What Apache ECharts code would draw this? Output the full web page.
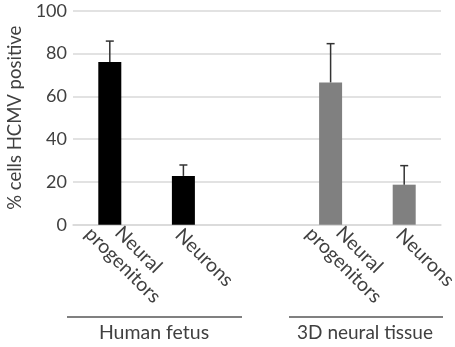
<!DOCTYPE html>
<html><head><meta charset="utf-8">
<script src="https://cdn.jsdelivr.net/npm/echarts@6/dist/echarts.min.js"></script>
<style>html,body{margin:0;padding:0;background:#fff}#c{width:455px;height:347px}</style>
</head><body><div id="c"></div>
<script>
const categories = ['Neural\nprogenitors', 'Neurons', '', 'Neural\nprogenitors', 'Neurons'];
const groupNames = ['Human fetus', '3D neural tissue'];
const fetusValues = [76, 22.8];
const fetusErrors = [9.8, 5.1];
const tissueValues = [66.5, 18.7];
const tissueErrors = [18.1, 8.9];
const yTicks = [0, 20, 40, 60, 80, 100];

const FONT = 'Lato';
const TXT = '#404040';
const values = [fetusValues[0], fetusValues[1], null, tissueValues[0], tissueValues[1]];
const errors = [fetusErrors[0], fetusErrors[1], null, tissueErrors[0], tissueErrors[1]];
const colors = ['#000000', '#000000', '#000000', '#808080', '#808080'];

const barData = values.map((v, i) => v == null ? null : { value: v, itemStyle: { color: colors[i] } });
const errData = values.map((v, i) => v == null ? null : [i, v, errors[i]]).filter(d => d);

const chart = echarts.init(document.getElementById('c'));
chart.setOption({
  animation: false,
  backgroundColor: '#fff',
  grid: { left: 73, right: 14, top: 10.7, bottom: 122.3, outerBoundsMode: 'none', containLabel: false },
  xAxis: {
    type: 'category', data: categories,
    axisTick: { show: false },
    axisLine: { lineStyle: { color: '#d9d9d9', width: 1.5 } },
    axisLabel: {
      interval: 0, rotate: -45, fontSize: 19.5, fontFamily: FONT, color: TXT,
      align: 'center', verticalAlign: 'middle', lineHeight: 22,
      margin: 43,
      formatter: function (v) {
        return v ? v.split('\n').map(function (l) { return '   ' + l; }).join('\n') + '\n \n ' : '';
      }
    }
  },
  yAxis: {
    type: 'value', min: yTicks[0], max: yTicks[yTicks.length - 1], interval: yTicks[1] - yTicks[0],
    axisLine: { show: false }, axisTick: { show: false },
    splitLine: { lineStyle: { color: '#d9d9d9', width: 1.5 } },
    axisLabel: { fontSize: 18, fontFamily: FONT, color: TXT, margin: 6 },
    name: '% cells HCMV positive', nameLocation: 'middle', nameGap: 48,
    nameTextStyle: { fontSize: 18.5, fontFamily: FONT, color: TXT }
  },
  series: [
    { type: 'bar', data: barData, barWidth: 23 },
    {
      type: 'custom', data: errData, encode: { x: 0, y: 1 }, z: 5,
      renderItem: function (params, api) {
        const x = api.value(0), v = api.value(1), e = api.value(2);
        const p0 = api.coord([x, v]);
        const p1 = api.coord([x, v + e]);
        const st = { stroke: '#333', lineWidth: 1.5 };
        return {
          type: 'group', children: [
            { type: 'line', shape: { x1: p0[0], y1: p0[1], x2: p1[0], y2: p1[1] }, style: st },
            { type: 'line', shape: { x1: p1[0] - 4, y1: p1[1], x2: p1[0] + 4, y2: p1[1] }, style: st }
          ]
        };
      }
    }
  ],
  graphic: [
    { type: 'line', shape: { x1: 67, y1: 317, x2: 242, y2: 317 }, style: { stroke: '#808080', lineWidth: 2 } },
    { type: 'line', shape: { x1: 289, y1: 317, x2: 443, y2: 317 }, style: { stroke: '#808080', lineWidth: 2 } },
    { type: 'text', x: 154, y: 333, style: { text: groupNames[0], font: '19.5px ' + FONT, fill: TXT, textAlign: 'center', textVerticalAlign: 'middle' } },
    { type: 'text', x: 365, y: 333, style: { text: groupNames[1], font: '19px ' + FONT, fill: TXT, textAlign: 'center', textVerticalAlign: 'middle' } }
  ]
});
</script>
</body></html>
